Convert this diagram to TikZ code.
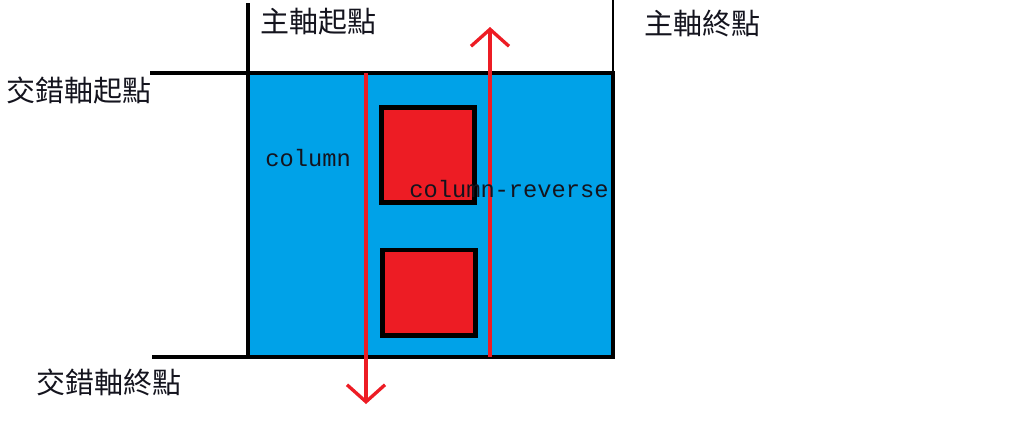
\documentclass[tikz,border=0pt]{standalone}
\usepackage{fontspec}
\setmonofont{Liberation Mono}
\newfontfamily\cjk{Noto Sans CJK TC}
\usetikzlibrary{arrows.meta}
\definecolor{paintblue}{RGB}{0,162,232}
\definecolor{paintred}{RGB}{237,28,36}
\definecolor{ink}{RGB}{20,20,30}
\tikzset{
  edge/.style={draw=black,line width=#1},
  edge/.default=2.3pt,
  flexbox/.style={draw=black,fill=paintblue,line width=2.3pt,inner sep=0pt,outer sep=0pt,
    minimum width=7.3cm,minimum height=5.68cm},
  flexitem/.style={draw=black,fill=paintred,line width=2.3pt,inner sep=0pt,outer sep=0pt,
    minimum width=1.86cm,minimum height=#1},
  flexitem/.default=1.9cm,
  dirline/.style={draw=paintred,line width=1.9pt,
    -{Straight Barb[length=3.4mm,width=7.6mm,line width=1.9pt]}},
  cjklabel/.style={font=\cjk\fontsize{16.5}{19}\selectfont,text=ink,anchor=west,inner sep=0pt},
  codelabel/.style={font=\ttfamily\fontsize{13.5}{16}\selectfont,text=ink,anchor=west,inner sep=0pt},
}

\begin{document}
\begin{tikzpicture}[x=0.02cm,y=-0.02cm]
  \useasboundingbox (0,0) rectangle (1024,441);
  % container and items
  \node[flexbox] (box) at (430.5,215) {};
  \node[flexitem] (itemA) at (428,155) {};
  \node[flexitem=1.72cm] (itemB) at (429,292.5) {};
  % axis edges
  \draw[edge] (box.north west |- 0,3) -- (box.north west) -- (box.north west -| 150,0);
  \draw[edge] (box.south west -| 152,0) -- (box.south west);
  \draw[edge=1.3pt] (box.north east |- 0,0) -- (box.north east);
  % direction arrows
  \coordinate (colStart) at (366,73);
  \coordinate (colEnd) at (366,404);
  \coordinate (revStart) at (490,357);
  \coordinate (revEnd) at (490,27);
  \draw[dirline] (colStart) -- (colEnd);
  \draw[dirline] (revStart) -- (revEnd);
  % labels
  \node[cjklabel] (mainStart) at (260,22) {主軸起點};
  \node[cjklabel] (mainEnd) at (644,24) {主軸終點};
  \node[cjklabel] (crossStart) at (6,90) {交錯軸起點};
  \node[cjklabel] (crossEnd) at (36,382) {交錯軸終點};
  \node[codelabel] (colText) at (265,158) {column};
  \node[codelabel] (revText) at (409,189) {column-reverse};
\end{tikzpicture}
\end{document}
